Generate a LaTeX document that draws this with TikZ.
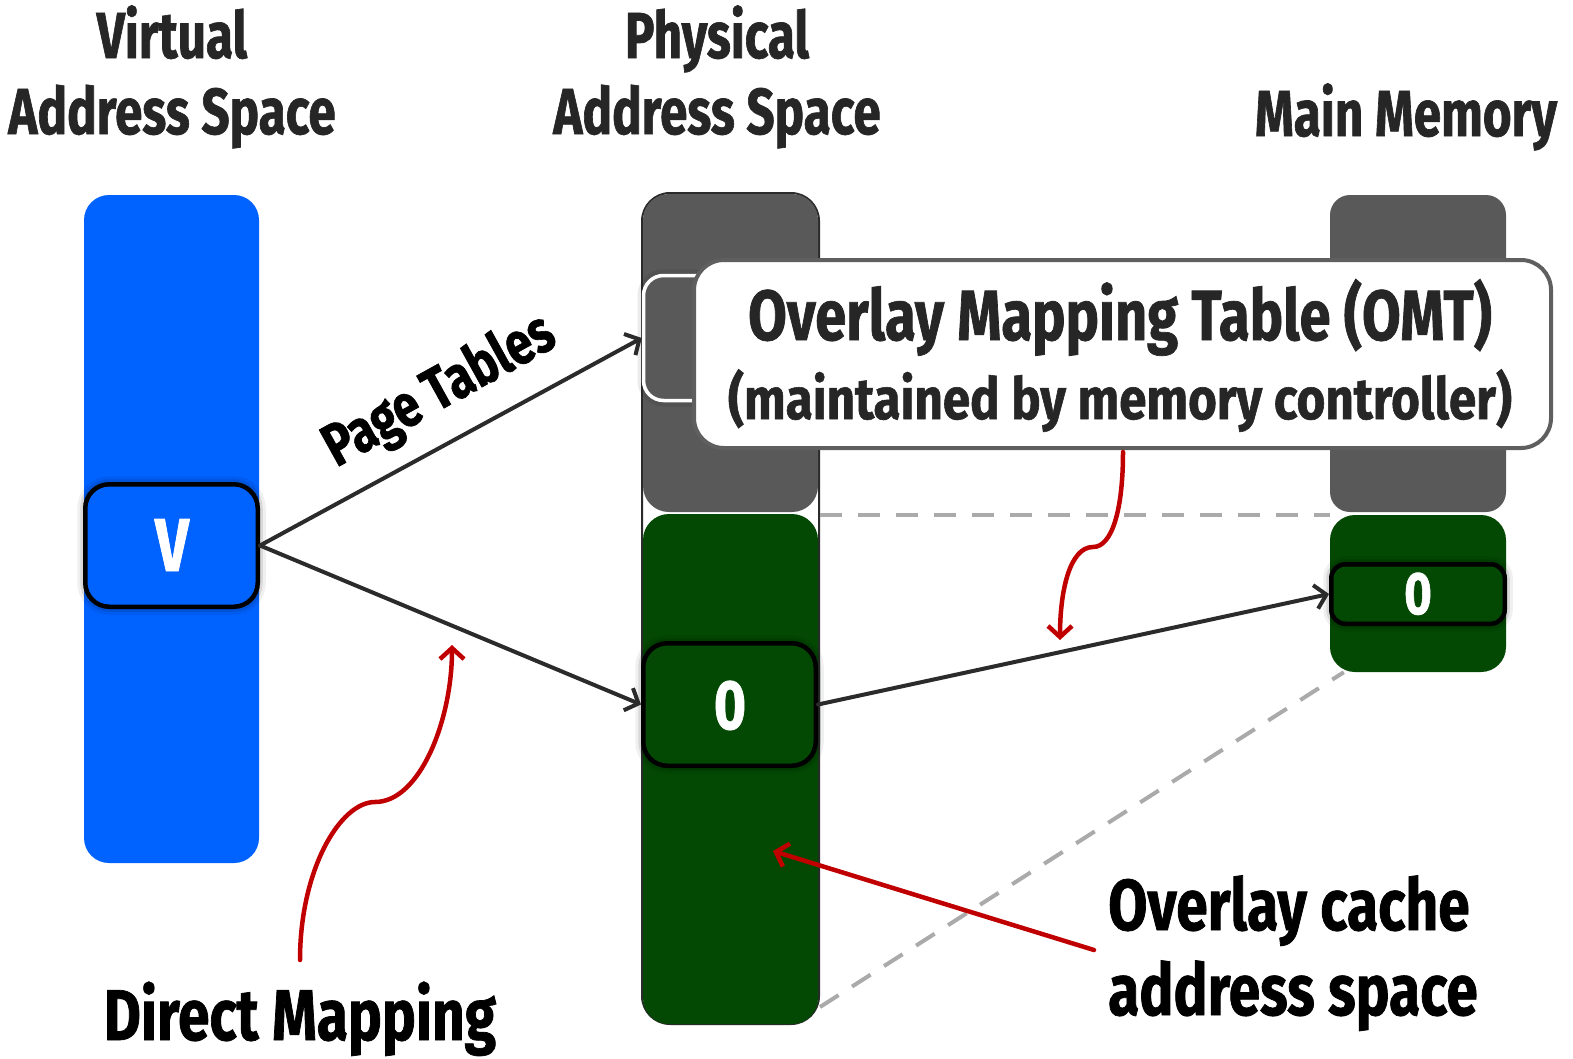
\documentclass[tikz,border=0pt]{standalone}
\usepackage{fontspec}
% condensed bold faces at three widths
\newfontfamily\condA{Fira Sans}[FakeStretch=0.76, FakeBold=1]
\newfontfamily\condB{Fira Sans}[FakeStretch=0.79, FakeBold=1]
\newfontfamily\condC{Fira Sans}[FakeStretch=0.85, FakeBold=1]
\usetikzlibrary{arrows.meta,calc}

\definecolor{vblue}{RGB}{0,98,255}
\definecolor{pgrey}{RGB}{89,89,89}
\definecolor{dgreen}{RGB}{3,73,3}
\definecolor{ink}{RGB}{38,38,38}
\definecolor{arrowink}{RGB}{43,43,43}
\definecolor{callred}{RGB}{192,0,0}
\definecolor{guide}{RGB}{170,170,170}
\definecolor{rim}{RGB}{95,95,95}

\tikzset{
  txt/.style={inner sep=0pt, anchor=base},
  ttl/.style={txt, text=ink, font=\condA\bfseries\fontsize{65}{70}\selectfont},
  big/.style={txt, text=black, font=\condB\bfseries\fontsize{72}{78}\selectfont},
  band/.style={rectangle, inner sep=0pt, draw=none},
  glow/.style={preaction={draw=black, draw opacity=0.06, line width=16pt},
               preaction={draw=black, draw opacity=0.10, line width=10pt}},
  cell/.style={band, glow, draw=black, line width=4.5pt, rounded corners=24pt},
  conn/.style={draw=arrowink, line width=4pt, line cap=round,
               -{Straight Barb[length=11pt,width=24pt,line width=4pt]}},
  callout/.style={draw=callred, line width=4.5pt, line cap=round,
               -{Straight Barb[length=11pt,width=24pt,line width=4.5pt]}},
  guideline/.style={draw=guide, line width=4pt, dash pattern=on 22pt off 16pt}
}

\begin{document}
\begin{tikzpicture}[x=1pt,y=-1pt]
\useasboundingbox (0,0) rectangle (1573,1058);

% ---- column titles
\node[ttl] (vt1) at (172,58) {Virtual};
\node[ttl] (vt2) at (172,134) {Address Space};
\node[ttl] (pt1) at (717,58) {Physical};
\node[ttl] (pt2) at (717,134) {Address Space};
\node[ttl] (mt1) at (1406,136) {Main Memory};

% ---- virtual address space
\node[band, fill=vblue, rounded corners=25pt, minimum width=175pt, minimum height=668pt]
  (vcol) at (171.5,529) {};
\node[cell, fill=vblue, minimum width=172.5pt, minimum height=122.5pt]
  (vbox) at (171.5,545.5) {};
\node[txt, text=white, font=\condB\bfseries\fontsize{75}{80}\selectfont] (vlab) at (172,571) {V};

% ---- physical address space
\node[band, draw=arrowink, line width=2pt, fill=white, rounded corners=28pt,
  minimum width=177pt, minimum height=831pt] (pcol) at (730.5,608.5) {};
\node[band, fill=pgrey, rounded corners=26pt, minimum width=175pt, minimum height=318pt]
  (pgray) at (730.5,353) {};
\node[band, fill=dgreen, rounded corners=26pt, minimum width=175pt, minimum height=510pt]
  (pgreen) at (730.5,769) {};
\node[band, preaction={draw=black, draw opacity=0.08, line width=12pt},
  draw=white, line width=3.5pt, fill=pgrey, rounded corners=20pt,
  minimum width=173pt, minimum height=125pt] (pomt) at (730,338) {};
\node[cell, fill=dgreen, minimum width=172.5pt, minimum height=122.5pt]
  (pzero) at (729.5,704.5) {};
\node[txt, text=white, font=\condB\bfseries\fontsize{70}{75}\selectfont] (plab) at (730,729) {0};

% ---- main memory
\node[band, fill=pgrey, rounded corners=20pt, minimum width=176pt, minimum height=317pt]
  (mgray) at (1418,353.5) {};
\node[band, fill=dgreen, rounded corners=25pt, minimum width=176pt, minimum height=157pt]
  (mgreen) at (1418,593.5) {};
\node[cell, fill=dgreen, rounded corners=14pt, minimum width=173.5pt, minimum height=59.5pt]
  (mzero) at (1418,594) {};
\node[txt, text=white, font=\condB\bfseries\fontsize{60}{65}\selectfont] (mlab) at (1418,614) {0};

% ---- overlay mapping table callout
\node[band, draw=rim, line width=4pt, fill=white, rounded corners=30pt,
  minimum width=857pt, minimum height=188pt] (omt) at (1122.5,354) {};
\node[txt, text=ink, font=\condB\bfseries\fontsize{71}{76}\selectfont] (omt1) at (1120,340) {Overlay Mapping Table (OMT)};
\node[txt, text=ink, font=\condC\bfseries\fontsize{58}{62}\selectfont] (omt2) at (1120,419) {(maintained by memory controller)};

% ---- guide lines between the address spaces
\draw[guideline] (pcol.east |- mgreen.north) -- (mgreen.north west);
\draw[guideline] ($(pcol.south east)+(0,-18)$) -- ($(mgreen.south west)+(14,0)$);

% ---- mappings
\draw[conn] (vbox.east) -- (pomt.west);
\draw[conn] (vbox.east) -- (pzero.west);
\draw[conn] (pzero.east) -- (mzero.west);
\node[txt, anchor=center, text=black, rotate=29, font=\condB\bfseries\fontsize{60}{65}\selectfont]
  (ptab) at (440,392) {Page Tables};

% ---- labels and red pointers
\node[big] (dm) at (300,1040) {Direct Mapping};
\node[big, anchor=base west] (oc1) at (1108,930) {Overlay cache};
\node[big, anchor=base west] (oc2) at (1108,1015) {address space};

\coordinate (dmtail) at (300,960);
\coordinate (dmtip) at (452,645);
\draw[callout] (dmtail) .. controls (300,870) and (340,802) .. (375,802)
  .. controls (420,802) and (452,720) .. (dmtip);

\coordinate (omttail) at (1123,452);
\coordinate (omttip) at (1060,640);
\draw[callout] (omttail) .. controls (1123,510) and (1112,547) .. (1093,547)
  .. controls (1070,547) and (1060,590) .. (omttip);

\coordinate (octail) at (1094,950);
\coordinate (octip) at (773,851);
\draw[callout] (octail) -- (octip);
\end{tikzpicture}
\end{document}
